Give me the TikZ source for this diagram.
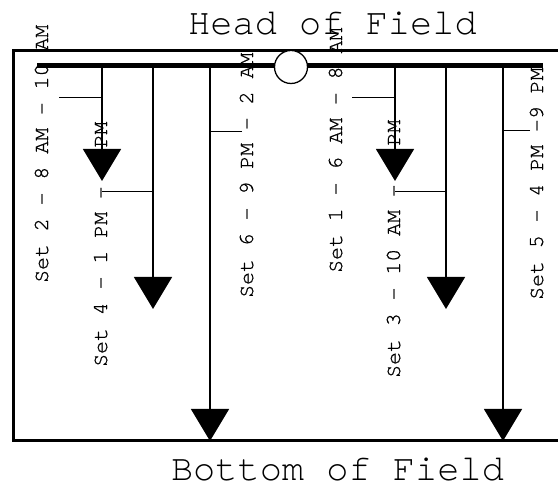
\documentclass[tikz,border=0pt]{standalone}
\usepackage{fontspec}
\newfontfamily\cour{TeX Gyre Cursor}
\newfontfamily\courlbl{TeX Gyre Cursor}[FakeBold=0.8]
\usetikzlibrary{arrows.meta}
\begin{document}
\begin{tikzpicture}[x=1pt,y=1pt,
  frame/.style={line width=3pt},
  pipe/.style={line width=5pt},
  valve/.style={circle,draw,fill=white,line width=1.3pt,minimum size=33pt,inner sep=0pt},
  drop/.style={line width=1.3pt,-{Triangle[length=32pt,width=38pt]}},
  leader/.style={line width=0.9pt},
  lbl/.style={rotate=90,anchor=base west,inner sep=0pt,font=\courlbl\fontsize{21.5pt}{21.5pt}\selectfont},
  heading/.style={anchor=base,inner sep=0pt,font=\cour\fontsize{37pt}{37pt}\selectfont}]
\useasboundingbox (0,0) rectangle (558,487);

% field outline (runs off the right edge)
\draw[frame] (13,46) rectangle (562,436);

% headings
\node[heading] (head) at (332.5,452) {Head of Field};
\node[heading] (bottom) at (337.5,6) {Bottom of Field};

% header pipe and valve
\coordinate (pL) at (37,421);
\coordinate (pR) at (543,421);
\draw[pipe] (pL) -- (pR);
\node[valve] (valve) at (291,420) {};

% drop lines from the header
\coordinate (a0) at (102,421); \coordinate (a1) at (102,306);
\coordinate (b0) at (153,421); \coordinate (b1) at (153,178);
\coordinate (c0) at (210,421); \coordinate (c1) at (210,46);
\coordinate (d0) at (395,421); \coordinate (d1) at (395,306);
\coordinate (e0) at (446,421); \coordinate (e1) at (446,178);
\coordinate (f0) at (503,421); \coordinate (f1) at (503,46);
\draw[drop] (a0) -- (a1);
\draw[drop] (b0) -- (b1);
\draw[drop] (c0) -- (c1);
\draw[drop] (d0) -- (d1);
\draw[drop] (e0) -- (e1);
\draw[drop] (f0) -- (f1);

% set labels
\node[lbl] (s2) at (48,204) {Set 2 – 8 AM – 10 AM};
\node[lbl] (s4) at (107,120) {Set 4 – 1 PM – \phantom{0} PM};
\node[lbl] (s6) at (253,189) {Set 6 – 9 PM – 2 AM};
\node[lbl] (s1) at (342,214) {Set 1 – 6 AM – 8 AM};
\node[lbl] (s3) at (400,109) {Set 3 – 10 AM – \phantom{0} PM};
\node[lbl] (s5) at (543,187) {Set 5 – 4 PM –9 PM};

% leader lines from labels to drops
\coordinate (k2) at (59,390);
\coordinate (k4) at (102,296);
\coordinate (k6) at (242,356);
\coordinate (k1) at (352,390);
\coordinate (k3) at (395,296);
\coordinate (k5) at (530,357);
\draw[leader] (k2) -- (k2 -| a0);
\draw[leader] (k4) -- (k4 -| b0);
\draw[leader] (k6) -- (k6 -| c0);
\draw[leader] (k1) -- (k1 -| d0);
\draw[leader] (k3) -- (k3 -| e0);
\draw[leader] (k5) -- (k5 -| f0);
\end{tikzpicture}
\end{document}
